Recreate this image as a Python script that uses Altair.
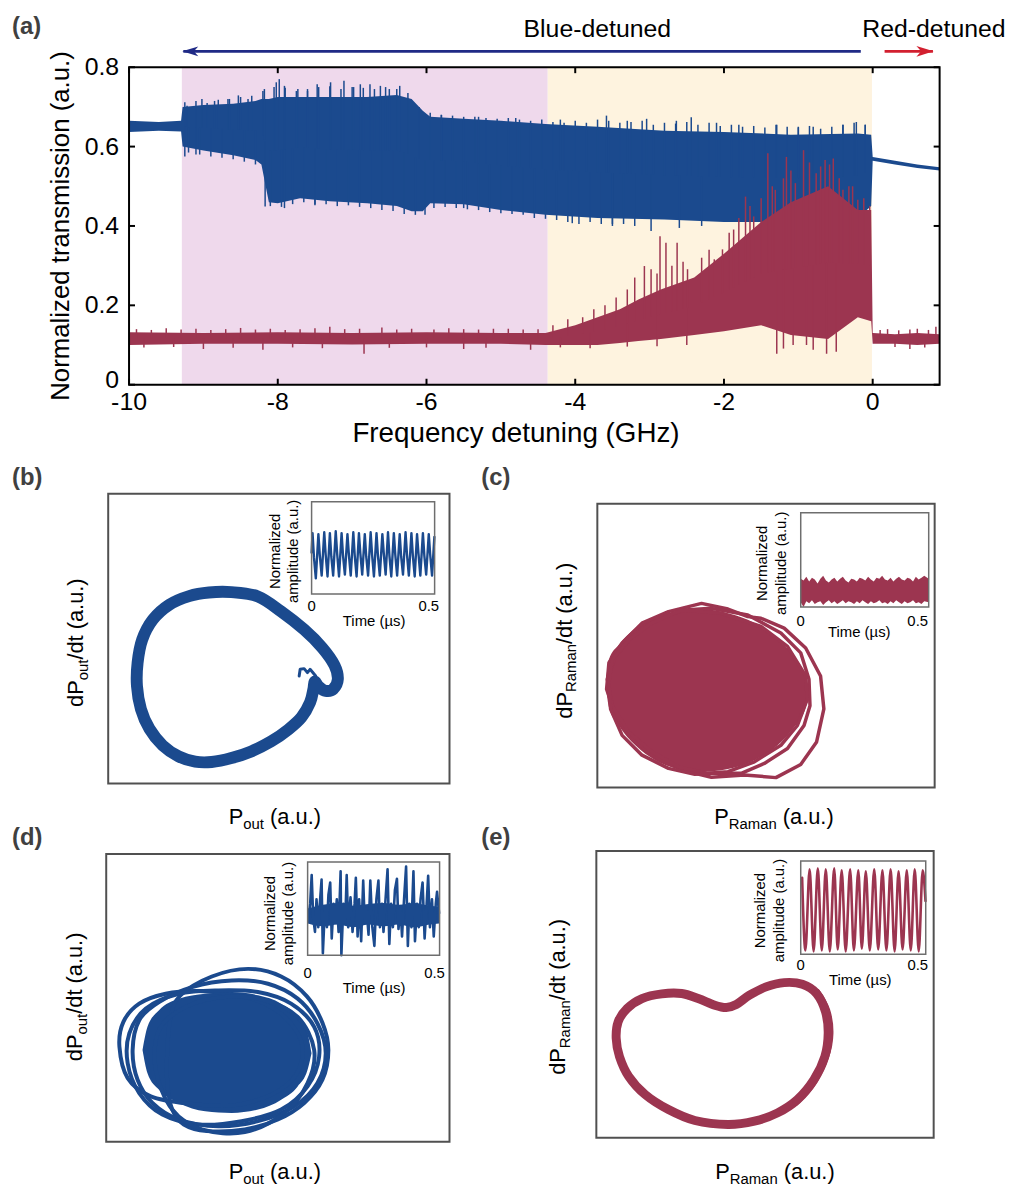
import altair as alt
import pandas as pd
import numpy as np

FONT = "Liberation Sans"
BLUE = "#1B4A8E"
RED = "#9C3550"
PINK = "#EFD9EC"
CREAM = "#FEF3DF"
FRAME = "#505050"
INSET_FRAME = "#6E6E6E"
ARROW_BLUE = "#1F2A86"
ARROW_RED = "#D21F2F"

# ---------------- panel (a) data ----------------
freq_range = [-10, 0.9]
trans_range = [0, 0.8]
freq_ticks = [-10, -8, -6, -4, -2, 0]
freq_tick_labels = ["-10", "-8", "-6", "-4", "-2", "0"]
trans_ticks = [0, 0.2, 0.4, 0.6, 0.8]
trans_tick_labels = ["0", "0.2", "0.4", "0.6", "0.8"]
region_pink = [-9.29, -4.37]
region_cream = [-4.37, -0.01]
blue_arrow = [-9.27, -0.16]
red_arrow = [0.16, 0.81]

blue_x = [-10.0, -9.6, -9.30, -9.28, -9.0, -8.6, -8.3, -8.22, -8.12, -8.0, -7.7, -7.3, -6.8, -6.4,
          -6.2, -6.05, -5.95, -5.5, -5.0, -4.4, -3.7, -2.8, -2.0, -1.1, -0.2, -0.02, 0.0, 0.3, 0.6, 0.9]
blue_hi = [0.665, 0.662, 0.665, 0.700, 0.705, 0.708, 0.715, 0.72, 0.72, 0.725, 0.725, 0.725, 0.725, 0.73,
           0.72, 0.69, 0.675, 0.67, 0.665, 0.657, 0.65, 0.64, 0.637, 0.63, 0.633, 0.63, 0.574, 0.564, 0.555, 0.548]
blue_lo = [0.637, 0.640, 0.638, 0.600, 0.590, 0.578, 0.566, 0.555, 0.46, 0.457, 0.47, 0.462, 0.457, 0.45,
           0.437, 0.437, 0.457, 0.455, 0.44, 0.428, 0.42, 0.416, 0.41, 0.41, 0.42, 0.45, 0.564, 0.555, 0.546, 0.540]

red_x = [-10.0, -9.0, -8.0, -7.0, -6.0, -5.0, -4.4, -4.0, -3.7, -3.4, -3.15, -2.85, -2.4, -2.0, -1.5,
         -1.1, -0.6, -0.2, -0.02, 0.0, 0.3, 0.6, 0.9]
red_hi = [0.132, 0.130, 0.132, 0.130, 0.132, 0.130, 0.130, 0.15, 0.17, 0.19, 0.215, 0.24, 0.27, 0.33, 0.41,
          0.46, 0.50, 0.44, 0.44, 0.130, 0.127, 0.130, 0.127]
red_lo = [0.100, 0.103, 0.103, 0.101, 0.103, 0.103, 0.100, 0.100, 0.100, 0.105, 0.11, 0.115, 0.125, 0.135, 0.15,
          0.125, 0.115, 0.17, 0.16, 0.103, 0.103, 0.100, 0.103]

# spikes above / below the noisy bands: (detuning GHz, tip value)
blue_spikes = [(-9.22, 0.703), (-9.02, 0.72), (-8.85, 0.715), (-8.67, 0.72), (-8.53, 0.729), (-8.40, 0.72),
               (-8.18, 0.745), (-8.02, 0.762), (-7.98, 0.77), (-7.91, 0.753), (-7.73, 0.745), (-7.60, 0.74),
               (-7.47, 0.757), (-7.29, 0.762), (-7.11, 0.766), (-6.98, 0.75), (-6.89, 0.757), (-6.76, 0.757),
               (-6.62, 0.753), (-6.50, 0.745), (-6.36, 0.753), (-5.80, 0.68), (-5.30, 0.675), (-4.80, 0.672),
               (-4.20, 0.668), (-3.58, 0.678), (-3.30, 0.665), (-3.04, 0.67), (-2.64, 0.665), (-2.44, 0.674),
               (-2.10, 0.66), (-1.80, 0.655), (-1.29, 0.655), (-1.00, 0.65), (-0.80, 0.65), (-0.40, 0.655),
               (-0.22, 0.662), (-0.10, 0.655),
               (-9.25, 0.712), (-9.10, 0.715), (-8.95, 0.71), (-8.80, 0.718), (-8.65, 0.72), (-8.50, 0.725),
               (-8.35, 0.728), (-8.20, 0.74), (-8.05, 0.75), (-7.90, 0.748), (-7.75, 0.74), (-7.60, 0.745),
               (-7.45, 0.75), (-7.30, 0.752), (-7.15, 0.745), (-7.00, 0.75), (-6.85, 0.748), (-6.70, 0.745),
               (-6.55, 0.75), (-6.40, 0.745), (-6.25, 0.735), (-6.10, 0.70), (-5.95, 0.685), (-5.80, 0.68),
               (-5.65, 0.678), (-5.50, 0.675), (-5.35, 0.675), (-5.20, 0.672), (-5.05, 0.67), (-4.90, 0.672),
               (-4.75, 0.668), (-4.60, 0.665), (-4.45, 0.668), (-4.30, 0.662), (-4.15, 0.66), (-4.00, 0.665),
               (-3.85, 0.66), (-3.70, 0.668), (-3.55, 0.665), (-3.40, 0.66), (-3.25, 0.662), (-3.10, 0.665),
               (-2.95, 0.655), (-2.80, 0.66), (-2.65, 0.658), (-2.50, 0.662), (-2.35, 0.655), (-2.20, 0.66),
               (-2.05, 0.652), (-1.90, 0.655), (-1.75, 0.65), (-1.60, 0.652), (-1.45, 0.648), (-1.30, 0.655),
               (-1.15, 0.65), (-1.00, 0.648), (-0.85, 0.652), (-0.70, 0.645), (-0.55, 0.65), (-0.40, 0.655),
               (-0.25, 0.66), (-0.10, 0.655),
               (-9.25, 0.575), (-9.10, 0.58), (-8.17, 0.449), (-7.91, 0.445), (-7.50, 0.455), (-6.02, 0.428),
               (-5.50, 0.445), (-4.04, 0.407), (-3.50, 0.405), (-2.98, 0.387), (-2.60, 0.395), (-2.30, 0.40),
               (-9.20, 0.585), (-9.05, 0.58), (-8.90, 0.575), (-8.75, 0.572), (-8.60, 0.568), (-8.45, 0.562),
               (-8.30, 0.555), (-8.10, 0.45), (-7.95, 0.448), (-7.80, 0.455), (-7.65, 0.46), (-7.50, 0.452),
               (-7.35, 0.455), (-7.20, 0.45), (-7.05, 0.452), (-6.90, 0.448), (-6.75, 0.445), (-6.60, 0.44),
               (-6.45, 0.438), (-6.30, 0.43), (-6.15, 0.428), (-5.90, 0.445), (-5.75, 0.448), (-5.60, 0.445),
               (-5.45, 0.442), (-5.30, 0.44), (-5.15, 0.435), (-5.00, 0.432), (-4.85, 0.43), (-4.70, 0.428),
               (-4.55, 0.42), (-4.40, 0.418), (-4.25, 0.415), (-4.10, 0.41), (-3.95, 0.405), (-3.80, 0.41),
               (-3.65, 0.405), (-3.50, 0.40), (-3.35, 0.405), (-3.20, 0.40)]
red_spikes = [(-3.07, 0.299), (-2.98, 0.291), (-2.86, 0.374), (-2.78, 0.358), (-2.63, 0.358), (-2.49, 0.291),
              (-2.13, 0.316), (-2.02, 0.341), (-1.93, 0.383), (-1.87, 0.391), (-1.71, 0.474), (-1.60, 0.424),
              (-1.41, 0.583), (-1.31, 0.491), (-1.16, 0.574), (-1.04, 0.508), (-0.93, 0.591), (-0.76, 0.533),
              (-0.64, 0.566), (-0.53, 0.57), (-0.40, 0.491), (-0.27, 0.50), (-0.20, 0.466), (-0.04, 0.45),
              (-4.30, 0.15), (-4.10, 0.165), (-3.90, 0.17), (-3.75, 0.19), (-3.60, 0.20), (-3.45, 0.22),
              (-3.30, 0.24), (-3.20, 0.27), (-2.90, 0.28), (-2.70, 0.30), (-2.55, 0.31), (-2.30, 0.32),
              (-2.20, 0.34), (-1.80, 0.42), (-1.65, 0.45), (-1.50, 0.47), (-1.35, 0.50), (-1.20, 0.52),
              (-1.10, 0.54), (-0.85, 0.56), (-0.70, 0.55), (-0.58, 0.555), (-0.45, 0.52), (-0.32, 0.50),
              (-0.12, 0.47),
              (-9.9, 0.140), (-9.7, 0.138), (-9.5, 0.142), (-9.3, 0.139), (-9.1, 0.141), (-8.9, 0.138),
              (-8.7, 0.140), (-8.5, 0.143), (-8.3, 0.139), (-8.1, 0.141), (-7.9, 0.138), (-7.7, 0.140),
              (-7.5, 0.142), (-7.3, 0.146), (-7.1, 0.140), (-6.9, 0.141), (-6.6, 0.144), (-6.4, 0.139),
              (-6.2, 0.141), (-5.9, 0.139), (-5.7, 0.142), (-5.5, 0.140), (-5.3, 0.139), (-5.1, 0.141),
              (-4.9, 0.141), (-4.7, 0.139), (-4.5, 0.140), (0.1, 0.138), (0.2, 0.14), (0.35, 0.137),
              (0.5, 0.139), (0.6, 0.141), (0.75, 0.138), (0.85, 0.146),
              (-6.84, 0.078), (-9.0, 0.09), (-8.2, 0.088), (-5.5, 0.09), (-4.6, 0.088), (-1.29, 0.078),
              (-1.20, 0.091), (-1.07, 0.10), (-0.89, 0.10), (-0.80, 0.088), (-0.62, 0.078), (-0.49, 0.083),
              (0.5, 0.09), (-9.8, 0.094), (-9.4, 0.095), (-8.6, 0.093), (-7.8, 0.094), (-7.4, 0.092),
              (-6.5, 0.093), (-6.0, 0.094), (-5.2, 0.093), (-4.2, 0.094), (-3.8, 0.092), (-3.3, 0.096),
              (-2.9, 0.097), (-2.5, 0.10), (0.3, 0.095), (0.7, 0.094)]

# ---------------- phase portraits (a.u.) ----------------
b_dom = ([3.27, 13.60], [0.25, 9.00])
c_dom = ([3.05, 13.25], [0.12, 8.72])
d_dom = ([3.20, 13.60], [0.23, 8.92])
e_dom = ([3.02, 13.22], [0.35, 9.00])

b_loop_x = [7.00, 7.80, 8.50, 9.20, 9.75, 10.12, 10.22, 10.08, 9.85, 9.65, 9.52, 9.48, 9.38, 9.12, 8.72, 8.20,
            7.60, 7.00, 6.40, 5.90, 5.40, 4.92, 4.52, 4.26, 4.14, 4.16, 4.30, 4.62, 5.12, 5.72, 6.32]
b_loop_y = [6.03, 5.90, 5.45, 4.90, 4.35, 3.82, 3.40, 3.10, 3.05, 3.17, 3.33, 3.10, 2.70, 2.25, 1.88, 1.52,
            1.22, 1.02, 0.90, 0.91, 1.07, 1.40, 1.90, 2.50, 3.20, 3.90, 4.60, 5.20, 5.65, 5.91, 6.02]
b_hook_x = [9.05, 9.08, 9.20, 9.30, 9.38, 9.45, 9.55]
b_hook_y = [3.50, 3.70, 3.72, 3.60, 3.70, 3.62, 3.50]

e_loop_x = [5.00, 4.40, 3.95, 3.68, 3.62, 3.72, 4.00, 4.50, 5.20, 6.00, 7.00, 7.80, 8.50, 9.10, 9.60, 9.93,
            10.03, 9.95, 9.68, 9.25, 8.70, 8.15, 7.65, 7.25, 6.95, 6.60, 6.10, 5.60]
e_loop_y = [4.69, 4.55, 4.25, 3.85, 3.35, 2.80, 2.20, 1.65, 1.20, 0.87, 0.75, 0.85, 1.10, 1.50, 2.10, 2.80,
            3.50, 4.15, 4.70, 4.98, 5.03, 4.90, 4.65, 4.37, 4.28, 4.35, 4.55, 4.70]
e_edge_x = [9.05, 9.58, 9.97, 10.10, 10.00, 9.70]
e_edge_y = [1.40, 2.00, 2.80, 3.50, 4.20, 4.75]

c_fill_x = [3.32, 3.40, 3.70, 4.20, 4.80, 5.50, 6.20, 7.00, 7.80, 8.50, 9.00, 9.30, 9.48]
c_fill_top = [3.40, 4.00, 4.45, 4.95, 5.30, 5.45, 5.52, 5.40, 5.10, 4.60, 4.10, 3.60, 3.00]
c_fill_bot = [3.10, 2.55, 2.00, 1.40, 0.95, 0.68, 0.60, 0.68, 0.95, 1.40, 1.95, 2.40, 3.00]
c_loops = [
    ([6.20, 7.00, 7.60, 8.00, 8.70, 9.35, 9.80, 9.90, 9.68, 9.20, 8.45, 7.50, 6.50, 5.60, 4.80, 4.10, 3.60, 3.33,
      3.40, 3.80, 4.40, 5.20],
     [5.70, 5.53, 5.30, 5.25, 4.95, 4.35, 3.50, 2.50, 1.50, 0.82, 0.42, 0.50, 0.43, 0.65, 1.05, 1.60, 2.30, 3.10,
      3.90, 4.50, 5.10, 5.45]),
    ([6.50, 7.60, 8.60, 9.20, 9.45, 9.48, 9.30, 8.80, 8.10, 7.40, 6.40, 5.50, 4.70, 4.00, 3.50, 3.35, 3.60, 4.20,
      5.00, 5.70],
     [5.55, 5.35, 4.80, 4.20, 3.40, 2.60, 2.00, 1.30, 0.85, 0.55, 0.55, 0.75, 1.20, 1.80, 2.60, 3.40, 4.10, 4.80,
      5.30, 5.50]),
    ([5.60, 6.80, 8.00, 8.80, 9.35, 9.40, 9.10, 8.60, 7.80, 7.00, 6.00, 5.20, 4.40, 3.80, 3.45, 3.40, 3.50, 4.00,
      4.70],
     [5.50, 5.40, 5.00, 4.40, 3.50, 2.80, 2.00, 1.40, 0.90, 0.60, 0.52, 0.70, 1.10, 1.70, 2.50, 3.30, 4.00, 4.60,
      5.10]),
]

d_fill_x = [4.30, 4.45, 4.80, 5.40, 6.20, 7.00, 7.80, 8.50, 9.00, 9.30, 9.42]
d_fill_top = [3.00, 3.70, 4.20, 4.55, 4.70, 4.75, 4.65, 4.40, 4.00, 3.50, 2.90]
d_fill_bot = [3.00, 2.30, 1.80, 1.40, 1.15, 1.10, 1.20, 1.50, 1.90, 2.40, 2.90]
d_loops = [
    ([3.60, 3.72, 4.20, 5.00, 6.00, 7.00, 8.00, 8.75, 9.15, 8.95, 8.20, 7.00, 5.70, 4.55, 3.85],
     [3.10, 3.85, 4.40, 4.70, 4.78, 4.68, 4.40, 3.85, 3.10, 2.25, 1.65, 1.32, 1.38, 1.60, 2.15]),
    ([5.45, 6.40, 7.50, 8.50, 9.28, 9.75, 9.93, 9.75, 9.20, 8.40, 7.40, 6.25, 5.55, 5.20, 5.05, 5.05, 5.15],
     [4.65, 5.22, 5.45, 5.22, 4.62, 3.82, 3.00, 2.10, 1.40, 0.90, 0.60, 0.55, 0.75, 1.20, 2.00, 3.00, 4.00]),
    ([4.00, 4.20, 4.80, 5.80, 7.00, 8.10, 9.00, 9.60, 9.85, 9.60, 8.90, 7.80, 6.60, 5.40, 4.60, 4.15],
     [3.00, 3.90, 4.45, 4.90, 5.10, 5.00, 4.55, 3.80, 2.90, 2.00, 1.30, 0.85, 0.70, 0.90, 1.40, 2.10]),
    ([3.90, 4.40, 5.40, 6.60, 7.80, 8.80, 9.50, 9.65, 9.30, 8.50, 7.30, 6.00, 4.90, 4.20, 3.85],
     [3.50, 4.25, 4.70, 4.80, 4.75, 4.40, 3.70, 2.80, 1.90, 1.20, 0.85, 0.75, 1.05, 1.70, 2.60]),
    ([4.70, 4.80, 5.60, 6.80, 8.00, 9.00, 9.50, 9.30, 8.60, 7.40, 6.10, 5.20],
     [2.40, 3.60, 4.30, 4.60, 4.50, 4.00, 3.00, 2.00, 1.10, 0.52, 0.60, 1.20]),
]

# ---------------- inset time traces (time in µs, normalized amplitude) ----------------
inset_ticks = [0, 0.5]
inset_tick_labels = ["0", "0.5"]
b_in_dom = [0, 0.525]
c_in_dom = [0, 0.547]
d_in_dom = [0, 0.52]
e_in_dom = [0, 0.534]

b_inset = [(0.000, 0.45), (0.004, 0.66), (0.010, 0.40), (0.018, 0.17), (0.029, 0.65), (0.035, 0.42), (0.043, 0.20),
           (0.054, 0.67), (0.060, 0.43), (0.068, 0.19), (0.078, 0.66), (0.084, 0.41), (0.092, 0.20),
           (0.103, 0.68), (0.109, 0.44), (0.117, 0.19), (0.128, 0.66), (0.134, 0.42), (0.142, 0.21),
           (0.153, 0.65), (0.159, 0.43), (0.167, 0.20), (0.178, 0.67), (0.184, 0.42), (0.192, 0.19),
           (0.202, 0.66), (0.208, 0.44), (0.216, 0.21), (0.227, 0.65), (0.233, 0.41), (0.241, 0.20),
           (0.252, 0.67), (0.258, 0.43), (0.266, 0.19), (0.277, 0.66), (0.283, 0.42), (0.291, 0.20),
           (0.302, 0.65), (0.308, 0.44), (0.316, 0.21), (0.326, 0.67), (0.332, 0.42), (0.340, 0.19),
           (0.351, 0.66), (0.357, 0.43), (0.365, 0.20), (0.376, 0.65), (0.382, 0.41), (0.390, 0.21),
           (0.401, 0.67), (0.407, 0.43), (0.415, 0.20), (0.426, 0.66), (0.432, 0.42), (0.440, 0.19),
           (0.450, 0.65), (0.456, 0.44), (0.464, 0.20), (0.475, 0.66), (0.481, 0.42), (0.489, 0.21),
           (0.500, 0.65), (0.506, 0.43), (0.514, 0.20), (0.524, 0.62)]

e_inset = [(0.006, 0.82), (0.020, 0.04), (0.038, 0.91), (0.055, 0.03), (0.073, 0.92), (0.090, 0.04), (0.107, 0.91),
           (0.124, 0.03), (0.143, 0.92), (0.158, 0.05), (0.175, 0.90), (0.192, 0.03), (0.211, 0.91), (0.227, 0.04),
           (0.246, 0.90), (0.261, 0.06), (0.278, 0.89), (0.295, 0.04), (0.314, 0.91), (0.331, 0.05), (0.349, 0.90),
           (0.366, 0.04), (0.384, 0.91), (0.401, 0.03), (0.418, 0.89), (0.435, 0.05), (0.453, 0.90), (0.470, 0.04),
           (0.487, 0.91), (0.504, 0.03), (0.521, 0.90), (0.533, 0.57)]

c_inset = [(0.000, 0.05, 0.30), (0.012, 0.00, 0.28), (0.024, 0.06, 0.32), (0.036, 0.04, 0.27), (0.048, 0.07, 0.31),
           (0.060, 0.03, 0.29), (0.072, 0.05, 0.25), (0.084, 0.06, 0.30), (0.096, 0.02, 0.33), (0.108, 0.05, 0.28),
           (0.120, 0.07, 0.26), (0.132, 0.04, 0.29), (0.144, 0.06, 0.31), (0.156, 0.03, 0.27), (0.168, 0.05, 0.30),
           (0.180, 0.07, 0.32), (0.192, 0.04, 0.28), (0.204, 0.06, 0.26), (0.216, 0.05, 0.30), (0.228, 0.03, 0.29),
           (0.240, 0.06, 0.27), (0.252, 0.04, 0.31), (0.264, 0.07, 0.30), (0.276, 0.05, 0.28), (0.288, 0.03, 0.32),
           (0.300, 0.06, 0.29), (0.312, 0.04, 0.27), (0.324, 0.05, 0.31), (0.336, 0.07, 0.30), (0.348, 0.04, 0.33),
           (0.360, 0.05, 0.29), (0.372, 0.03, 0.28), (0.384, 0.06, 0.31), (0.396, 0.04, 0.27), (0.408, 0.07, 0.30),
           (0.420, 0.05, 0.32), (0.432, 0.03, 0.29), (0.444, 0.06, 0.28), (0.456, 0.04, 0.31), (0.468, 0.05, 0.30),
           (0.480, 0.07, 0.27), (0.492, 0.04, 0.32), (0.504, 0.05, 0.29), (0.516, 0.03, 0.31), (0.528, 0.06, 0.33),
           (0.547, 0.05, 0.30)]

d_inset = [(0.004, 0.42), (0.010, 0.55), (0.016, 0.86), (0.022, 0.40), (0.029, 0.25), (0.035, 0.60), (0.042, 0.30),
           (0.048, 0.55), (0.055, 0.81), (0.060, 0.02), (0.068, 0.50), (0.076, 0.30), (0.082, 0.65), (0.089, 0.78),
           (0.095, 0.18), (0.102, 0.55), (0.108, 0.35), (0.115, 0.60), (0.122, 0.25), (0.130, 0.90), (0.133, 0.00),
           (0.141, 0.55), (0.148, 0.35), (0.154, 0.86), (0.160, 0.30), (0.169, 0.62), (0.177, 0.25), (0.185, 0.55),
           (0.190, 0.83), (0.197, 0.20), (0.203, 0.60), (0.211, 0.15), (0.219, 0.80), (0.225, 0.35), (0.232, 0.50),
           (0.240, 0.22), (0.247, 0.80), (0.255, 0.30), (0.263, 0.10), (0.271, 0.60), (0.279, 0.80), (0.285, 0.30),
           (0.293, 0.55), (0.299, 0.25), (0.307, 0.60), (0.315, 0.92), (0.322, 0.12), (0.329, 0.55), (0.336, 0.30),
           (0.344, 0.70), (0.352, 0.82), (0.358, 0.28), (0.366, 0.50), (0.372, 0.20), (0.380, 0.60), (0.388, 0.95),
           (0.395, 0.10), (0.401, 0.55), (0.409, 0.30), (0.417, 0.90), (0.423, 0.15), (0.431, 0.55), (0.438, 0.30),
           (0.445, 0.60), (0.453, 0.78), (0.461, 0.18), (0.469, 0.55), (0.475, 0.85), (0.482, 0.30), (0.490, 0.60),
           (0.497, 0.20), (0.505, 0.55), (0.510, 0.68), (0.518, 0.45)]
d_inset_core = [(0.00, 0.34, 0.50), (0.06, 0.31, 0.54), (0.12, 0.33, 0.56), (0.18, 0.30, 0.53), (0.24, 0.33, 0.55),
                (0.30, 0.31, 0.56), (0.36, 0.33, 0.54), (0.42, 0.30, 0.56), (0.48, 0.33, 0.53), (0.518, 0.34, 0.52)]

# ---------------- layout (pixel ranges of each plotting frame) ----------------
A_PX = ([122, 939], [375, 55])
B_PX = ([101, 445], [777, 485])
C_PX = ([594, 934], [781, 495])
D_PX = ([99, 445], [1138, 848])
E_PX = ([593, 933], [1134, 845])
BI_PX = ([306, 430], [586, 493])
CI_PX = ([799, 928], [599, 504])
DI_PX = ([302, 435], [950, 856])
EI_PX = ([799, 925], [949, 855])


def S(dom, rng):
    return alt.Scale(domain=list(dom), range=list(rng), nice=False, zero=False)


def xq(field, dom, rng):
    return alt.X(field, type="quantitative", scale=S(dom, rng), axis=None)


def yq(field, dom, rng):
    return alt.Y(field, type="quantitative", scale=S(dom, rng), axis=None)


W = {' ': 278, '(': 333, ')': 333, '.': 278, '/': 278, 'a': 556, 'd': 556, 'e': 556, 'm': 833, 'n': 556,
     'o': 556, 't': 278, 'u': 556, 'P': 667, 'R': 722}


def tw(s, size):
    return sum(W.get(c, 556) for c in s) * size / 1000.0


def text_layer(s, x, y, size, angle=0, align="center", baseline="middle", bold=False, color="black"):
    props = dict(text=s, font=FONT, fontSize=size, align=align, baseline=baseline, color=color)
    if angle:
        props["angle"] = angle
    if bold:
        props["fontWeight"] = "bold"
    return alt.Chart(pd.DataFrame({"k": [0]})).mark_text(**props).encode(x=alt.value(x), y=alt.value(y))


def htitle(parts, cx, base):
    total = sum(tw(t, s) for t, s, _ in parts)
    x = cx - total / 2
    out = []
    for t, s, d in parts:
        lead = len(t) - len(t.lstrip(" "))
        x += tw(" " * lead, s)
        tt = t.strip(" ")
        out.append(text_layer(tt, x, base + d, s, align="left", baseline="alphabetic"))
        x += tw(tt, s)
    return out


def vtitle(parts, cy, base):
    total = sum(tw(t, s) for t, s, _ in parts)
    y = cy + total / 2
    out = []
    for t, s, d in parts:
        lead = len(t) - len(t.lstrip(" "))
        y -= tw(" " * lead, s)
        tt = t.strip(" ")
        out.append(text_layer(tt, base + d, y, s, angle=270, align="left", baseline="alphabetic"))
        y -= tw(tt, s)
    return out


def frame(dom, px, color, width):
    df = pd.DataFrame({"x0": [dom[0][0]], "x1": [dom[0][1]], "y0": [dom[1][0]], "y1": [dom[1][1]]})
    return alt.Chart(df).mark_rect(fillOpacity=0, stroke=color, strokeWidth=width).encode(
        x=xq("x0", dom[0], px[0]), x2="x1", y=yq("y0", dom[1], px[1]), y2="y1")


def line(xs, ys, dom, px, color, width, interp="linear"):
    df = pd.DataFrame({"x": xs, "y": ys, "i": list(range(len(xs)))})
    return alt.Chart(df).mark_line(color=color, strokeWidth=width, interpolate=interp,
                                   strokeJoin="round", strokeCap="round").encode(
        x=xq("x", dom[0], px[0]), y=yq("y", dom[1], px[1]), order="i:Q")


def band(xs, lo, hi, dom, px, color, interp="linear"):
    df = pd.DataFrame({"x": xs, "lo": lo, "hi": hi})
    return alt.Chart(df).mark_area(color=color, interpolate=interp, opacity=1).encode(
        x=xq("x", dom[0], px[0]), y=yq("lo", dom[1], px[1]), y2="hi")


layers = []
A_DOM = (freq_range, trans_range)

# ---- (a) background regions
for reg, col in [(region_pink, PINK), (region_cream, CREAM)]:
    df = pd.DataFrame({"x0": [reg[0]], "x1": [reg[1]], "y0": [trans_range[0]], "y1": [trans_range[1]]})
    layers.append(alt.Chart(df).mark_rect(color=col).encode(
        x=xq("x0", freq_range, A_PX[0]), x2="x1", y=yq("y0", trans_range, A_PX[1]), y2="y1"))


def spikes(sp, env_x, env_lo, env_hi, color):
    mid = (np.array(env_lo) + np.array(env_hi)) / 2
    xs = [p[0] for p in sp]
    tips = [p[1] for p in sp]
    base = list(np.interp(xs, env_x, mid))
    df = pd.DataFrame({"x": xs, "b": base, "t": tips})
    return alt.Chart(df).mark_rule(color=color, strokeWidth=1.5).encode(
        x=xq("x", freq_range, A_PX[0]), y=yq("b", trans_range, A_PX[1]), y2="t")


layers.append(band(blue_x, blue_lo, blue_hi, A_DOM, A_PX, BLUE))
layers.append(spikes(blue_spikes, blue_x, blue_lo, blue_hi, BLUE))
layers.append(band(red_x, red_lo, red_hi, A_DOM, A_PX, RED))
layers.append(spikes(red_spikes, red_x, red_lo, red_hi, RED))

# frame + inward ticks
layers.append(frame(A_DOM, A_PX, "black", 2))
dxt = pd.DataFrame({"v": freq_ticks, "lab": freq_tick_labels})
dyt = pd.DataFrame({"v": trans_ticks, "lab": trans_tick_labels})
for y0, y1 in [(A_PX[1][0], A_PX[1][0] - 6), (A_PX[1][1], A_PX[1][1] + 6)]:
    layers.append(alt.Chart(dxt).mark_rule(color="black", strokeWidth=2).encode(
        x=xq("v", freq_range, A_PX[0]), y=alt.value(y0), y2=alt.value(y1)))
for x0, x1 in [(A_PX[0][0], A_PX[0][0] + 6), (A_PX[0][1], A_PX[0][1] - 6)]:
    layers.append(alt.Chart(dyt).mark_rule(color="black", strokeWidth=2).encode(
        y=yq("v", trans_range, A_PX[1]), x=alt.value(x0), x2=alt.value(x1)))
layers.append(alt.Chart(dxt).mark_text(font=FONT, fontSize=25, align="center", baseline="middle", dy=1).encode(
    x=xq("v", freq_range, A_PX[0]), y=alt.value(392), text="lab:N"))
layers.append(alt.Chart(dyt.iloc[1:]).mark_text(font=FONT, fontSize=25, align="right", baseline="middle").encode(
    y=yq("v", trans_range, A_PX[1]), x=alt.value(112), text="lab:N"))
layers.append(alt.Chart(dyt.iloc[:1]).mark_text(font=FONT, fontSize=25, align="right", baseline="middle",
                                                dy=-5).encode(
    y=yq("v", trans_range, A_PX[1]), x=alt.value(112), text="lab:N"))
layers.append(text_layer("Frequency detuning (GHz)", 512, 425, 28))
layers.append(text_layer("Normalized transmission (a.u.)", 61, 215, 26, angle=270, baseline="alphabetic"))

# arrows
LEFT_HEAD = "M -1 0 L 1 -0.62 L 0.45 0 L 1 0.62 Z"
RIGHT_HEAD = "M 1 0 L -1 -0.62 L -0.45 0 L -1 0.62 Z"
for arr, col, head, side, off, sz in [(blue_arrow, ARROW_BLUE, LEFT_HEAD, 0, 7, 260),
                                      (red_arrow, ARROW_RED, RIGHT_HEAD, 1, -8, 300)]:
    dfa = pd.DataFrame({"x0": [arr[0]], "x1": [arr[1]]})
    layers.append(alt.Chart(dfa).mark_rule(color=col, strokeWidth=2.6).encode(
        x=xq("x0", freq_range, A_PX[0]), x2="x1", y=alt.value(39)))
    dfh = pd.DataFrame({"x": [arr[side]]})
    layers.append(alt.Chart(dfh).mark_point(shape=head, filled=True, size=sz, color=col, opacity=1,
                                            xOffset=off).encode(
        x=xq("x", freq_range, A_PX[0]), y=alt.value(39)))
layers.append(text_layer("Blue-detuned", 594, 17, 25))
layers.append(text_layer("Red-detuned", 861, 17, 25, align="left"))

# ---- (b)
layers.append(line(b_loop_x, b_loop_y, b_dom, B_PX, BLUE, 12, "cardinal-closed"))
layers.append(line(b_hook_x, b_hook_y, b_dom, B_PX, BLUE, 3))
layers.append(frame(b_dom, B_PX, FRAME, 2))

# ---- (c)
layers.append(band(c_fill_x, c_fill_bot, c_fill_top, c_dom, C_PX, RED, "monotone"))
for lx, ly in c_loops:
    layers.append(line(lx, ly, c_dom, C_PX, RED, 3.5, "linear-closed"))
layers.append(frame(c_dom, C_PX, FRAME, 2))

# ---- (d)
layers.append(band(d_fill_x, d_fill_bot, d_fill_top, d_dom, D_PX, BLUE, "monotone"))
for lx, ly in d_loops:
    layers.append(line(lx, ly, d_dom, D_PX, BLUE, 4, "cardinal-closed"))
layers.append(frame(d_dom, D_PX, FRAME, 2))

# ---- (e)
layers.append(line(e_loop_x, e_loop_y, e_dom, E_PX, RED, 9, "cardinal-closed"))
layers.append(line(e_edge_x, e_edge_y, e_dom, E_PX, RED, 6, "cardinal"))
layers.append(frame(e_dom, E_PX, FRAME, 2))

# ---- insets
Y01 = [0, 1]
layers.append(line([p[0] for p in b_inset], [p[1] for p in b_inset], (b_in_dom, Y01), BI_PX, BLUE, 2.4))
layers.append(band([p[0] for p in c_inset], [p[1] for p in c_inset], [p[2] for p in c_inset],
                   (c_in_dom, Y01), CI_PX, RED))
layers.append(band([p[0] for p in d_inset_core], [p[1] for p in d_inset_core], [p[2] for p in d_inset_core],
                   (d_in_dom, Y01), DI_PX, BLUE, "monotone"))
layers.append(line([p[0] for p in d_inset], [p[1] for p in d_inset], (d_in_dom, Y01), DI_PX, BLUE, 2.6))
layers.append(line([p[0] for p in e_inset], [p[1] for p in e_inset], (e_in_dom, Y01), EI_PX, RED, 2.6,
                   "monotone"))

inset_specs = [
    (b_in_dom, BI_PX, 598, (369, 613), (269, 287, 543)),
    (c_in_dom, CI_PX, 613, (858, 624), (760, 779, 555)),
    (d_in_dom, DI_PX, 968, (369, 983), (264, 282, 908)),
    (e_in_dom, EI_PX, 960, (859, 975), (758, 777, 905)),
]
dit = pd.DataFrame({"v": inset_ticks, "lab": inset_tick_labels})
for dom, px, ty, tpos, ypos in inset_specs:
    layers.append(frame((dom, Y01), px, INSET_FRAME, 1.5))
    layers.append(alt.Chart(dit).mark_text(font=FONT, fontSize=15, align="center", baseline="middle").encode(
        x=xq("v", dom, px[0]), y=alt.value(ty), text="lab:N"))
    layers.append(text_layer("Time (µs)", tpos[0], tpos[1], 15))
    layers.append(text_layer("Normalized", ypos[0], ypos[2], 15, angle=270))
    layers.append(text_layer("amplitude (a.u.)", ypos[1], ypos[2], 15, angle=270))

# ---- axis titles with subscripts
out_x = [("P", 22, 0), ("out", 15, 5), (" (a.u.)", 22, 0)]
ram_x = [("P", 22, 0), ("Raman", 15, 5), (" (a.u.)", 22, 0)]
out_y = [("dP", 22, 0), ("out", 15, 5), ("/dt (a.u.)", 22, 0)]
ram_y = [("dP", 22, 0), ("Raman", 15, 5), ("/dt (a.u.)", 22, 0)]
layers += htitle(out_x, 269, 818)
layers += htitle(ram_x, 772, 818)
layers += htitle(out_x, 269, 1176)
layers += htitle(ram_x, 773, 1176)
layers += vtitle(out_y, 635, 76)
layers += vtitle(ram_y, 633, 568)
layers += vtitle(out_y, 992, 75)
layers += vtitle(ram_y, 992, 561)

# ---- panel letters
for lab, x, y in [("(a)", 4, 15), ("(b)", 4, 469), ("(c)", 477, 469), ("(d)", 4, 832), ("(e)", 477, 832)]:
    layers.append(text_layer(lab, x, y, 24, align="left", bold=True, color="#404040"))

chart = alt.layer(*layers).resolve_scale(x="independent", y="independent").properties(
    width=1018, height=1183, padding=0, autosize=alt.AutoSizeParams(type="none")
).configure_view(stroke=None)

chart.save("out.html", embed_options={"renderer": "svg", "actions": False})
